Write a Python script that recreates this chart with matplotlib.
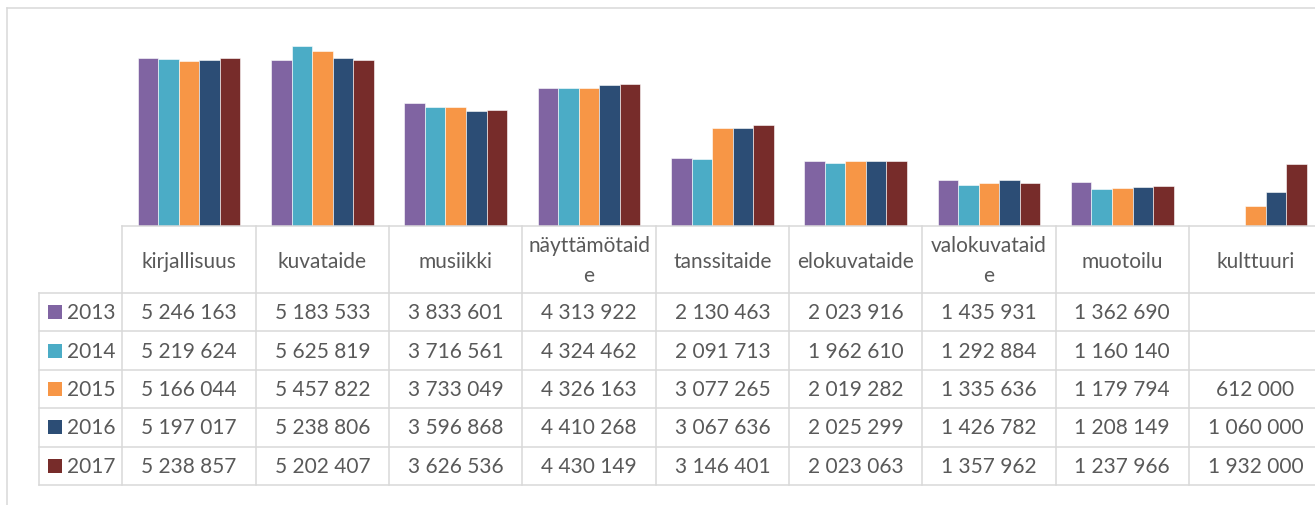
import numpy as np
import matplotlib
matplotlib.use("Agg")
import matplotlib.pyplot as plt

categories = ["kirjallisuus", "kuvataide", "musiikki", "näyttämötaide", "tanssitaide",
              "elokuvataide", "valokuvataide", "muotoilu", "kulttuuri"]
header_labels = ["kirjallisuus", "kuvataide", "musiikki", "näyttämötaid\ne", "tanssitaide",
                 "elokuvataide", "valokuvataid\ne", "muotoilu", "kulttuuri"]
years = ["2013", "2014", "2015", "2016", "2017"]
v2013 = [5246163, 5183533, 3833601, 4313922, 2130463, 2023916, 1435931, 1362690, None]
v2014 = [5219624, 5625819, 3716561, 4324462, 2091713, 1962610, 1292884, 1160140, None]
v2015 = [5166044, 5457822, 3733049, 4326163, 3077265, 2019282, 1335636, 1179794, 612000]
v2016 = [5197017, 5238806, 3596868, 4410268, 3067636, 2025299, 1426782, 1208149, 1060000]
v2017 = [5238857, 5202407, 3626536, 4430149, 3146401, 2023063, 1357962, 1237966, 1932000]
series = [v2013, v2014, v2015, v2016, v2017]
colors = ["#8064A2", "#4BACC6", "#F79646", "#2C4D75", "#772C2A"]

W, H = 1315, 506
fig = plt.figure(figsize=(W / 100, H / 100), dpi=100)
fig.patch.set_facecolor("white")

# geometry (pixels)
x_tab = 122.5
col_w = 133.3
x_leg = 39.5
y_base = 227
y_head = 294
row_h = 38.4
ymax = 6e6
px_per = 32.0 / 1e6
top_px = y_base - ymax * px_per

n = len(categories)
ax = fig.add_axes([x_tab / W, (H - y_base) / H, n * col_w / W, (y_base - top_px) / H])
ax.set_xlim(-0.5, n - 0.5)
ax.set_ylim(0, ymax)
ax.axis("off")
bw = 0.154
x = np.arange(n)
for i, (vals, c) in enumerate(zip(series, colors)):
    arr = np.array([np.nan if v is None else v for v in vals], dtype=float)
    ax.bar(x + (i - 2) * bw, arr, width=bw, color=c, edgecolor="white", linewidth=0.4, zorder=2)

# overlay for table
ov = fig.add_axes([0, 0, 1, 1], zorder=3)
ov.set_xlim(0, W)
ov.set_ylim(H, 0)
ov.axis("off")
gc = "#D9D9D9"
lw = 1.1
tc = "#595959"
fs = 15
fam = ["Lato", "DejaVu Sans"]

# outer chart frame
ov.plot([7, 7], [9, H], color=gc, lw=lw)
ov.plot([7, W], [9, 9], color=gc, lw=lw)

x_right = x_tab + n * col_w
y_bot = y_head + len(years) * row_h
# horizontal lines
ov.plot([x_tab, x_right], [y_base, y_base], color=gc, lw=lw)
for r in range(len(years) + 1):
    yy = y_head + r * row_h
    ov.plot([x_leg, x_right], [yy, yy], color=gc, lw=lw)
# vertical lines
ov.plot([x_leg, x_leg], [y_head, y_bot], color=gc, lw=lw)
for c in range(n + 1):
    xx = x_tab + c * col_w
    ov.plot([xx, xx], [y_base, y_bot], color=gc, lw=lw)

# header labels
for c, lab in enumerate(header_labels):
    cx = x_tab + (c + 0.5) * col_w
    if "\n" in lab:
        l1, l2 = lab.split("\n")
        ov.text(cx, 246.5, l1, ha="center", va="center", fontsize=fs, color=tc, family=fam)
        ov.text(cx, 276, l2, ha="center", va="center", fontsize=fs, color=tc, family=fam)
    else:
        ov.text(cx, 261.5, lab, ha="center", va="center", fontsize=fs, color=tc, family=fam)

# rows
for r, (yr, vals, col) in enumerate(zip(years, series, colors)):
    cy = y_head + (r + 0.5) * row_h
    ov.add_patch(plt.Rectangle((48, cy - 7), 14, 14, facecolor=col, edgecolor="none"))
    ov.text(67, cy, yr, ha="left", va="center", fontsize=fs, color=tc, family=fam)
    for c, v in enumerate(vals):
        if v is None:
            continue
        s = format(v, ",").replace(",", " ")
        ov.text(x_tab + (c + 0.5) * col_w, cy, s, ha="center", va="center",
                fontsize=fs, color=tc, family=fam)

fig.savefig("out.png", dpi=100, facecolor="white")
